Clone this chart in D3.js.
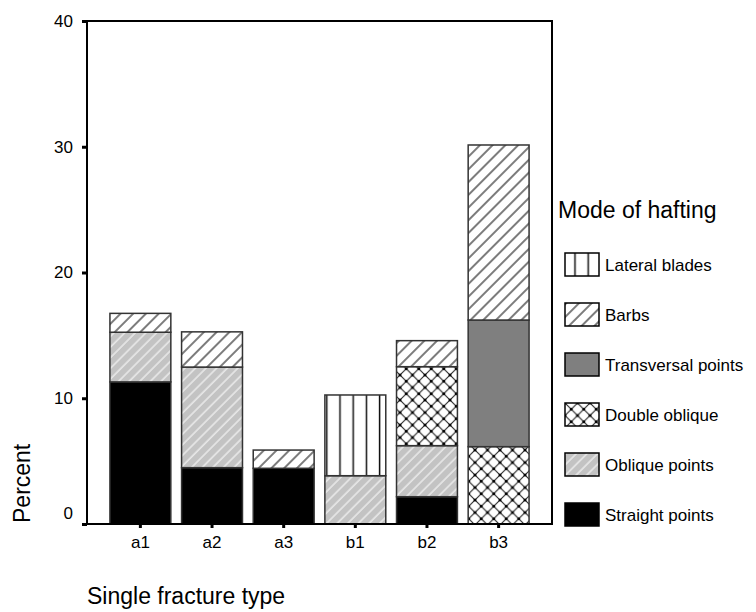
<!DOCTYPE html>
<html>
<head>
<meta charset="utf-8">
<script src="https://cdn.jsdelivr.net/npm/d3@7"></script>
<style>
  body { margin: 0; background: #fff; }
  svg { display: block; font-family: "Liberation Sans", Arial, sans-serif; }
</style>
</head>
<body>
<svg id="chart" width="756" height="612"></svg>
<script>
// Data (percent per mode of hafting, stacked)
const categories = ['a1', 'a2', 'a3', 'b1', 'b2', 'b3'];
const modes = ['Straight points', 'Oblique points', 'Double oblique', 'Transversal points', 'Barbs', 'Lateral blades'];
const straightPoints = [11.3, 4.48, 4.43, 0, 2.17, 0];
const obliquePoints = [3.95, 8.0, 0, 3.84, 4.06, 0];
const doubleOblique = [0, 0, 0, 0, 6.28, 6.15];
const transversalPoints = [0, 0, 0, 0, 0, 10.07];
const barbs = [1.5, 2.8, 1.45, 0, 2.07, 13.92];
const lateralBlades = [0, 0, 0, 6.42, 0, 0];
const yTicks = [0, 10, 20, 30, 40];

const seriesByMode = {
	'Straight points': straightPoints,
	'Oblique points': obliquePoints,
	'Double oblique': doubleOblique,
	'Transversal points': transversalPoints,
	'Barbs': barbs,
	'Lateral blades': lateralBlades
};

const rows = categories.map((c, i) => {
	const row = { cat: c };
	modes.forEach((m) => { row[m] = seriesByMode[m][i]; });
	return row;
});

const svg = d3.select('#chart');
const frame = { left: 87, right: 552, top: 21, bottom: 524 };

// Fill patterns, SPSS style
const defs = svg.append('defs');

const pOblique = defs.append('pattern')
	.attr('id', 'p-oblique')
	.attr('patternUnits', 'userSpaceOnUse')
	.attr('width', 7.5).attr('height', 7.5)
	.attr('patternTransform', 'rotate(45)');
pOblique.append('rect').attr('width', 7.5).attr('height', 7.5).attr('fill', '#c3c3c3');
pOblique.append('line').attr('x1', 1).attr('x2', 1).attr('y1', 0).attr('y2', 7.5)
	.attr('stroke', '#fff').attr('stroke-width', 1);

const pBarbs = defs.append('pattern')
	.attr('id', 'p-barbs')
	.attr('patternUnits', 'userSpaceOnUse')
	.attr('width', 9).attr('height', 9)
	.attr('patternTransform', 'rotate(45)');
pBarbs.append('rect').attr('width', 9).attr('height', 9).attr('fill', '#fff');
pBarbs.append('line').attr('x1', 1).attr('x2', 1).attr('y1', 0).attr('y2', 9)
	.attr('stroke', '#111').attr('stroke-width', 1.1);

const pDouble = defs.append('pattern')
	.attr('id', 'p-double')
	.attr('patternUnits', 'userSpaceOnUse')
	.attr('width', 12.5).attr('height', 12.5);
pDouble.append('rect').attr('width', 12.5).attr('height', 12.5).attr('fill', '#fff');
pDouble.append('path').attr('d', 'M0,0L12.5,12.5M12.5,0L0,12.5')
	.attr('stroke', '#111').attr('stroke-width', 1);
[[0, 0], [12.5, 0], [0, 12.5], [12.5, 12.5], [6.25, 6.25]].forEach(([cx, cy]) => {
	pDouble.append('circle').attr('cx', cx).attr('cy', cy).attr('r', 1.5).attr('fill', '#000');
});

const pLateral = defs.append('pattern')
	.attr('id', 'p-lateral')
	.attr('patternUnits', 'userSpaceOnUse')
	.attr('width', 13.2).attr('height', 13.2);
pLateral.append('rect').attr('width', 13.2).attr('height', 13.2).attr('fill', '#fff');
pLateral.append('line').attr('x1', 10).attr('x2', 10).attr('y1', 0).attr('y2', 13.2)
	.attr('stroke', '#111').attr('stroke-width', 1.5);

const fillByMode = {
	'Straight points': '#000',
	'Oblique points': 'url(#p-oblique)',
	'Double oblique': 'url(#p-double)',
	'Transversal points': '#7f7f7f',
	'Barbs': 'url(#p-barbs)',
	'Lateral blades': 'url(#p-lateral)'
};

// Scales
const xScale = d3.scaleBand()
	.domain(categories)
	.range([frame.left, frame.right])
	.paddingInner(0.15)
	.paddingOuter(0.32);

const yScale = d3.scaleLinear()
	.domain([0, 40])
	.range([frame.bottom, frame.top]);

// Bars
const stacked = d3.stack().keys(modes)(rows);

svg.append('g')
	.selectAll('g')
	.data(stacked)
	.join('g')
	.attr('fill', (s) => fillByMode[s.key])
	.selectAll('rect')
	.data((s) => s.filter((d) => d[1] - d[0] > 0))
	.join('rect')
	.attr('x', (d) => xScale(d.data.cat))
	.attr('width', xScale.bandwidth())
	.attr('y', (d) => yScale(d[1]))
	.attr('height', (d) => yScale(d[0]) - yScale(d[1]))
	.attr('stroke', '#333')
	.attr('stroke-width', 1.5);

// Frame
svg.append('rect')
	.attr('x', frame.left).attr('y', frame.top)
	.attr('width', frame.right - frame.left)
	.attr('height', frame.bottom - frame.top)
	.attr('fill', 'none')
	.attr('stroke', '#000')
	.attr('stroke-width', 2);

// Axes
const yAxis = svg.append('g')
	.attr('transform', `translate(${frame.left},0)`)
	.call(d3.axisLeft(yScale).tickValues(yTicks).tickSize(5).tickPadding(9).tickFormat(d3.format('d')));
yAxis.select('.domain').remove();
yAxis.selectAll('.tick line').attr('stroke', '#000').attr('stroke-width', 3);
yAxis.selectAll('.tick text')
	.attr('font-size', 17)
	.attr('font-family', null)
	.attr('fill', '#000')
	.attr('dy', (d) => d === 0 ? '-0.35em' : '0.32em');

const xAxis = svg.append('g')
	.attr('transform', `translate(0,${frame.bottom})`)
	.call(d3.axisBottom(xScale).tickSize(4).tickSizeOuter(0));
xAxis.select('.domain').remove();
xAxis.selectAll('.tick line').attr('stroke', '#000').attr('stroke-width', 3);
xAxis.selectAll('.tick text')
	.attr('font-size', 17)
	.attr('font-family', null)
	.attr('fill', '#000')
	.attr('y', 24)
	.attr('dy', 0);

// Axis titles
svg.append('text')
	.attr('transform', 'translate(30,523) rotate(-90)')
	.attr('font-size', 23)
	.text('Percent');

svg.append('text')
	.attr('x', 87)
	.attr('y', 604)
	.attr('font-size', 23)
	.text('Single fracture type');

// Legend
svg.append('text')
	.attr('x', 558)
	.attr('y', 218)
	.attr('font-size', 23)
	.text('Mode of hafting');

const legendModes = modes.slice().reverse();
const legend = svg.append('g')
	.selectAll('g')
	.data(legendModes)
	.join('g')
	.attr('transform', (d, i) => `translate(565,${253 + i * 50})`);

legend.append('rect')
	.attr('width', 34)
	.attr('height', 23)
	.attr('fill', (d) => fillByMode[d])
	.attr('stroke', '#000')
	.attr('stroke-width', 1.5);

legend.append('text')
	.attr('x', 40)
	.attr('y', 18)
	.attr('font-size', 17)
	.text((d) => d);
</script>
</body>
</html>
